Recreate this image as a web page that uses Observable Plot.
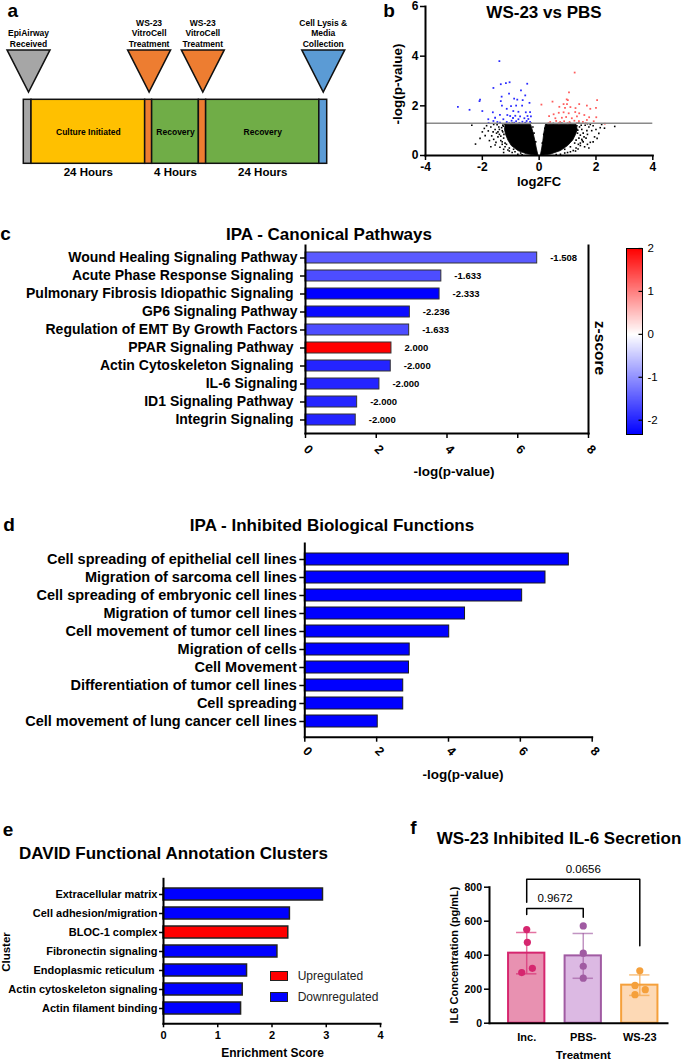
<!DOCTYPE html>
<html>
<head>
<meta charset="utf-8">
<script src="https://cdn.jsdelivr.net/npm/d3@7"></script>
<script src="https://cdn.jsdelivr.net/npm/@observablehq/plot@0.6"></script>
<style>
html,body{margin:0;padding:0;background:#fff;}
#fig{position:relative;width:685px;height:1060px;overflow:hidden;background:#fff;}
</style>
</head>
<body>
<div id="fig"></div>
<script>
const FONT = '"Liberation Sans", Arial, Helvetica, sans-serif';

// ===================== DATA =====================
// Panel a: experimental timeline (schematic units 0-100)
const timelineStages = ["received","culture","treatment","recovery","treatment","recovery","collection"];
const timelineStart = [0, 2.54, 40.0, 42.3, 57.7, 60.1, 97.4];
const timelineEnd   = [2.54, 40.0, 42.3, 57.7, 60.1, 97.4, 100];
const timelineText  = ["", "Culture Initiated", "", "Recovery", "", "Recovery", ""];
const timelineDuration = ["", "24 Hours", "", "4 Hours", "", "24 Hours", ""];
const eventStage = ["received","treatment","treatment","collection"];
const eventPos   = [1.55, 41.3, 59.0, 98.7];
const eventText  = ["EpiAirway\nReceived", "WS-23\nVitroCell\nTreatment", "WS-23\nVitroCell\nTreatment", "Cell Lysis &\nMedia\nCollection"];

// Panel b: volcano plot  [log2FC, -log(p)]
const pThreshold = 1.3;
const downPoints = [[-1.40,3.80],[-1.61,2.72],[-1.35,2.87],[-1.17,2.91],[-1.04,2.95],[-0.64,2.62],[-0.42,2.89],[-1.06,2.49],[-1.32,2.37],[-0.49,2.42],[-2.08,2.25],[-2.10,2.19],[-1.35,2.19],[-0.88,2.29],[-0.77,2.25],[-0.58,2.23],[-0.34,2.12],[-2.86,1.96],[-2.45,1.84],[-2.00,1.79],[-1.31,2.01],[-0.99,1.99],[-0.81,2.01],[-0.60,2.01],[-1.14,1.88],[-0.91,1.79],[-0.73,1.76],[-0.47,1.74],[-0.32,1.75],[-1.63,1.74],[-1.55,1.52],[-1.38,1.64],[-1.12,1.63],[-1.02,1.59],[-0.84,1.60],[-0.67,1.58],[-0.41,1.59],[-0.29,1.58],[-1.78,1.31],[-1.61,1.39],[-1.47,1.35],[-1.26,1.46],[-1.14,1.35],[-0.97,1.40],[-0.81,1.38],[-0.73,1.46],[-0.59,1.36],[-0.44,1.39],[-0.38,1.47],[-0.48,1.32],[-0.32,1.35],[-1.38,1.32],[-1.05,1.30],[-0.88,1.32],[-0.69,1.30],[-0.52,1.50],[-0.92,1.51],[-1.79,1.46]];
const upPoints = [[1.25,3.34],[1.05,2.54],[0.97,2.26],[1.01,2.23],[0.08,2.05],[0.47,2.17],[0.86,2.07],[0.98,2.07],[1.41,2.07],[2.04,2.23],[0.71,1.96],[0.91,1.92],[1.10,1.95],[1.28,1.91],[1.68,2.01],[1.80,1.88],[2.00,1.92],[0.35,1.59],[0.51,1.66],[0.69,1.72],[0.86,1.74],[1.04,1.70],[1.27,1.75],[1.41,1.70],[1.59,1.63],[1.76,1.54],[2.01,1.54],[0.57,1.50],[0.80,1.52],[0.95,1.55],[1.15,1.50],[1.33,1.58],[0.39,1.35],[0.60,1.39],[0.74,1.35],[0.88,1.38],[1.07,1.35],[1.24,1.40],[1.40,1.38],[1.54,1.35],[1.68,1.43],[1.92,1.38],[2.31,1.28],[0.33,1.30],[0.69,1.30],[1.00,1.30],[1.33,1.30],[1.64,1.30]];
const nsPoints = [[-2.37,1.22],[-2.24,0.46],[-2.08,0.69],[-1.93,1.09],[-1.79,0.99],[-1.67,0.79],[-1.52,0.53],[-1.38,0.33],[-1.85,1.2],[-1.7,1.15],[-1.6,1.25],[-1.55,1.05],[-1.5,0.9],[-1.45,0.75],[-1.42,1.15],[-1.35,0.6],[-1.3,0.45],[-1.25,0.25],[-1.48,1.24],[-1.62,0.95],[-1.28,1.22],[-1.4,0.85],[-1.3,0.55],[-1.1,0.22],[-0.95,0.12],[-0.85,0.15],[-0.75,0.05],[-2.0,0.95],[-1.75,0.6],[-1.9,0.8],[-1.4,1.05],[-1.45,0.95],[-1.2,0.35],[-1.05,0.18],[-0.6,0.03],[-0.28,1.3],[-0.22,1.15],[-0.18,0.9],[-0.12,0.55],[-1.15,1.29],[-0.95,1.3],[-0.7,1.29],[-0.5,1.3],[-1.6,0.65],[-1.55,0.42],[-1.7,0.35],[-1.25,0.12],[-0.65,0.1],
  [-1.25,0.7],[-1.28,0.95],[-1.32,1.12],[-1.26,1.18],[-1.2,0.5],[-1.05,0.3],[-0.9,0.25],[-1.35,0.78],[-1.15,0.45],[-1.24,0.85],[-1.3,1.0],[-1.22,1.27],
  [2.66,1.17],[2.10,0.89],[1.80,0.53],[2.04,0.69],[1.37,0.26],[1.9,1.2],[1.85,1.0],[1.75,1.15],[1.7,0.85],[1.65,0.7],[1.68,1.0],[1.55,0.55],[1.62,1.22],[1.45,0.4],[1.58,0.75],[1.6,0.35],[1.7,1.28],[1.45,0.5],[1.2,0.2],[1.1,0.15],[1.95,0.75],[2.0,1.05],[1.7,0.45],[1.52,0.6],[1.3,0.3],[0.9,0.1],[0.75,0.05],[2.2,1.25],[1.8,1.25],[0.25,1.25],[0.2,1.1],[0.16,0.85],[0.11,0.5],[2.3,1.1],[1.9,0.55],[1.75,0.3],[1.0,0.12],[0.6,0.04],[1.4,1.3],[1.1,1.29],[0.8,1.3],[0.5,1.29],[1.28,0.18],[2.15,1.12],
  [1.35,0.9],[1.4,0.7],[1.42,1.15],[1.33,1.2],[1.25,0.5],[1.1,0.35],[0.9,0.25],[1.45,0.82],[1.5,1.05],[1.38,0.45],[1.55,0.9],[1.5,0.65],[1.36,1.02],[1.48,1.22],[1.3,0.62]];
// outlines of the dense, non-significant cloud
const cloudLeft  = [[-0.04,0],[-0.45,0.07],[-0.75,0.2],[-0.98,0.4],[-1.1,0.62],[-1.18,0.85],[-1.22,1.05],[-1.2,1.25],[-0.3,1.25],[-0.22,0.95],[-0.15,0.6],[-0.1,0.3],[-0.04,0]];
const cloudRight = [[0.04,0],[0.09,0.3],[0.13,0.6],[0.17,0.95],[0.22,1.25],[1.3,1.25],[1.34,1.05],[1.28,0.85],[1.18,0.62],[1.0,0.4],[0.75,0.2],[0.4,0.06],[0.04,0]];

// Panel c: IPA canonical pathways
const pathways = ["Wound Healing Signaling Pathway","Acute Phase Response Signaling ","Pulmonary Fibrosis Idiopathic Signaling ","GP6 Signaling Pathway","Regulation of EMT By Growth Factors","PPAR Signaling Pathway ","Actin Cytoskeleton Signaling ","IL-6 Signaling","ID1 Signaling Pathway ","Integrin Signaling "];
const pathwayLogP = [6.55, 3.84, 3.79, 2.95, 2.93, 2.43, 2.41, 2.09, 1.46, 1.42];
const pathwayZ = [-1.508, -1.633, -2.333, -2.236, -1.633, 2.000, -2.000, -2.000, -2.000, -2.000];
const zTicks = [-2, -1, 0, 1, 2];
const logPTicks = [0, 2, 4, 6, 8];

// Panel d: IPA inhibited biological functions
const functionsD = ["Cell spreading of epithelial cell lines","Migration of sarcoma cell lines","Cell spreading of embryonic cell lines","Migration of tumor cell lines","Cell movement of tumor cell lines","Migration of cells","Cell Movement","Differentiation of tumor cell lines","Cell spreading","Cell movement of lung cancer cell lines"];
const functionLogP = [7.35, 6.70, 6.05, 4.46, 4.02, 2.92, 2.90, 2.74, 2.74, 2.03];

// Panel e: DAVID clusters
const clusters = ["Extracellular matrix","Cell adhesion/migration","BLOC-1 complex","Fibronectin signaling","Endoplasmic reticulum ","Actin cytoskeleton signaling","Actin filament binding"];
const clusterScore = [2.94, 2.33, 2.30, 2.10, 1.54, 1.46, 1.43];
const clusterDirection = ["Downregulated","Downregulated","Upregulated","Downregulated","Downregulated","Downregulated","Downregulated"];
const enrichTicks = [0, 1, 2, 3, 4];

// Panel f: IL-6 ELISA
const treatments = ["Inc.", "PBS-", "WS-23"];
const il6Values = [[551, 476, 323, 298], [572, 412, 335, 265], [308, 222, 197, 168]];
const il6Jitter = [[0, 0.012, 0.1, -0.088], [0, 0, 0, 0], [0, -0.085, 0.097, -0.085]];
const il6Ticks = [0, 200, 400, 600, 800];
const comparisonA = ["Inc.", "Inc."];
const comparisonB = ["PBS-", "WS-23"];
const comparisonP = ["0.9672", "0.0656"];
const bracketLevel = [675, 847];
const bracketLegA = [640, 712];
const bracketLegB = [623, 455];

// ===================== STYLE =====================
const stageColors = {received:"#a6a6a6", culture:"#ffc000", treatment:"#ed7d31", recovery:"#70ad47", collection:"#5b9bd5"};
const treatmentFill = ["#e891b1", "#dcb9e3", "#fdd9b5"];
const treatmentEdge = ["#d6266f", "#a05ba2", "#f5a03b"];
const zColor = {type:"linear", domain:[-2.333, 0, 2], range:["#0000ff", "#ffffff", "#ff0000"]};
const baseStyle = `font-family:${FONT};font-size:11px;background:transparent;overflow:visible;white-space:pre;color:#000;`;
const fmt = d => String(d);

const fig = document.getElementById("fig");
function place(node, left, top) {
  node.style.position = "absolute";
  node.style.left = left + "px";
  node.style.top = top + "px";
  fig.appendChild(node);
}
function label(text, x, y, {size = 12, weight = "bold", anchor = "middle", rotate = 0, color = "#000"} = {}) {
  const d = document.createElement("div");
  d.textContent = text;
  d.style.cssText = `position:absolute;left:${x}px;top:${y}px;font-family:${FONT};font-size:${size}px;font-weight:${weight};color:${color};white-space:pre;line-height:1;`;
  const tx = anchor === "start" ? "0" : anchor === "end" ? "-100%" : "-50%";
  d.style.transform = `translate(${tx},-50%)` + (rotate ? ` rotate(${rotate}deg)` : "");
  if (anchor !== "middle") d.style.transformOrigin = anchor === "start" ? "0 50%" : "100% 50%";
  fig.appendChild(d);
}
const downTriangle = {
  draw(ctx, size) {
    const r = Math.sqrt(size / Math.PI);
    ctx.moveTo(-r, -r * 0.98); ctx.lineTo(r, -r * 0.98); ctx.lineTo(0, r * 0.98); ctx.closePath();
  }
};

// ===================== PANEL A =====================
const segs = timelineStages.map((s, i) => ({stage: s, start: timelineStart[i], end: timelineEnd[i], text: timelineText[i], dur: timelineDuration[i]}));
const events = eventStage.map((s, i) => ({stage: s, pos: eventPos[i], text: eventText[i]}));
const stageDomain = Object.keys(stageColors);
place(Plot.plot({
  width: 340, height: 185, margin: 0, style: baseStyle,
  x: {domain: [0, 100], range: [23.3, 326.7], axis: null},
  y: {domain: [0, 1], range: [163.3, 99.3], axis: null},
  color: {domain: stageDomain, range: stageDomain.map(k => stageColors[k])},
  marks: [
    Plot.rect(segs, {x1: "start", x2: "end", y1: 0, y2: 1, fill: "stage", stroke: "#111", strokeWidth: 1.5}),
    Plot.text(segs, {filter: d => d.text, x: d => (d.start + d.end) / 2, y: 0.485, text: "text", fontSize: 8.5, fontWeight: "bold"}),
    Plot.text(segs, {filter: d => d.dur, x: d => (d.start + d.end) / 2, y: -0.14, text: "dur", fontSize: 11.5, fontWeight: "bold"}),
    Plot.dot(events, {x: "pos", y: 1.45, r: 21.5, symbol: downTriangle, fill: "stage", stroke: "#111", strokeWidth: 1.5}),
    Plot.text(events, {x: "pos", y: 1.83, text: "text", lineAnchor: "bottom", lineHeight: 1.22, fontSize: 8.5, fontWeight: "bold"})
  ]
}), 0, 0);
label("a", 12.8, 10, {size: 19});

// ===================== PANEL B =====================
place(Plot.plot({
  width: 345, height: 185, marginLeft: 85, marginRight: 32.7, marginTop: 6, marginBottom: 30, style: baseStyle,
  x: {domain: [-4, 4]},
  y: {domain: [0, 6]},
  marks: [
    Plot.line(cloudLeft, {x: d => d[0], y: d => d[1], fill: "#000", stroke: "#000", strokeWidth: 0.8}),
    Plot.line(cloudRight, {x: d => d[0], y: d => d[1], fill: "#000", stroke: "#000", strokeWidth: 0.8}),
    Plot.dot(nsPoints, {x: d => d[0], y: d => d[1], r: 0.9, symbol: "square", fill: "#000"}),
    Plot.dot(downPoints, {x: d => d[0], y: d => d[1], r: 1, symbol: "square", fill: "#2a2aff"}),
    Plot.dot(upPoints, {x: d => d[0], y: d => d[1], r: 1, symbol: "square", fill: "#ff5c5c"}),
    Plot.ruleY([pThreshold], {stroke: "#8a8a8a", strokeWidth: 1.5}),
    Plot.frame({anchor: "left", strokeWidth: 2}),
    Plot.frame({anchor: "bottom", strokeWidth: 2}),
    Plot.axisX({ticks: [-4, -2, 0, 2, 4], tickFormat: fmt, tickSize: 5, tickPadding: 2, fontSize: 12, fontWeight: "bold", strokeWidth: 1.5, label: null}),
    Plot.axisY({ticks: [0, 2, 4, 6], tickFormat: fmt, tickSize: 5, tickPadding: 2, fontSize: 12, fontWeight: "bold", strokeWidth: 1.5, label: null})
  ]
}), 340, 0);
label("b", 389, 10.3, {size: 19});
label("WS-23 vs PBS", 544, 12, {size: 17});
label("log2FC", 539, 181, {size: 13});
label("-log(p-value)", 398, 84, {size: 13.5, rotate: -90});

// ===================== PANEL C =====================
const cData = pathways.map((p, i) => ({name: p, logp: pathwayLogP[i], z: pathwayZ[i]}));
place(Plot.plot({
  width: 600, height: 300, marginLeft: 305, marginRight: 12, marginTop: 60, marginBottom: 52, style: baseStyle,
  x: {domain: [0, 8]},
  y: {domain: pathways, paddingInner: 0.365, paddingOuter: 0.28},
  color: zColor,
  marks: [
    Plot.barX(cData, {x: "logp", y: "name", fill: "z", stroke: "#333", strokeWidth: 1}),
    Plot.text(cData, {x: "logp", y: "name", text: d => d.z.toFixed(3), dx: 13, textAnchor: "start", fontSize: 9.5, fontWeight: "bold"}),
    Plot.frame({anchor: "left", strokeWidth: 2}),
    Plot.frame({anchor: "bottom", strokeWidth: 2}),
    Plot.frame({anchor: "right", strokeWidth: 2}),
    Plot.axisY({tickSize: 5, tickPadding: 3, fontSize: 14, fontWeight: "bold", strokeWidth: 1.5, label: null}),
    Plot.axisX({ticks: logPTicks, tickSize: 5, tickFormat: () => "", strokeWidth: 1.5, label: null}),
    Plot.text(logPTicks, {x: d => d, text: fmt, frameAnchor: "bottom", dy: 19, rotate: 45, fontSize: 12.5, fontWeight: "bold"})
  ]
}), 0, 185);
label("c", 5.5, 233, {size: 19});
label("IPA - Canonical Pathways", 329, 234, {size: 17});
label("-log(p-value)", 454, 471.5, {size: 13.5});

// colour bar
place(Plot.plot({
  width: 85, height: 200, marginLeft: 26, marginRight: 43, marginTop: 8, marginBottom: 6, style: baseStyle,
  x: {domain: [0, 1], axis: null},
  y: {domain: [-2.333, 2]},
  color: zColor,
  marks: [
    Plot.raster({x1: 0, x2: 1, y1: -2.333, y2: 2, width: 1, height: 256, fill: (x, y) => y, imageRendering: "auto"}),
    Plot.ruleY(zTicks, {x1: 0.78, x2: 1, stroke: "#000", strokeWidth: 1.2}),
    Plot.frame({stroke: "#000", strokeWidth: 1}),
    Plot.axisY({anchor: "right", ticks: zTicks, tickFormat: fmt, tickSize: 0, tickPadding: 5, fontSize: 11.5, fontWeight: "normal", label: null})
  ]
}), 600, 240);
label("z-score", 600, 348, {size: 15.5, rotate: 90});

// ===================== PANEL D =====================
const dData = functionsD.map((f, i) => ({name: f, logp: functionLogP[i]}));
place(Plot.plot({
  width: 610, height: 260, marginLeft: 304.3, marginRight: 18.3, marginTop: 13, marginBottom: 53.3, style: baseStyle,
  x: {domain: [0, 8]},
  y: {domain: functionsD, paddingInner: 0.34, paddingOuter: 0.36},
  marks: [
    Plot.barX(dData, {x: "logp", y: "name", fill: "#0000ff", stroke: "#1a1a1a", strokeWidth: 1}),
    Plot.frame({anchor: "left", strokeWidth: 2}),
    Plot.frame({anchor: "bottom", strokeWidth: 2}),
    Plot.axisY({tickSize: 5, tickPadding: 3, fontSize: 14.5, fontWeight: "bold", strokeWidth: 1.5, label: null}),
    Plot.axisX({ticks: logPTicks, tickSize: 5, tickFormat: () => "", strokeWidth: 1.5, label: null}),
    Plot.text(logPTicks, {x: d => d, text: fmt, frameAnchor: "bottom", dy: 17, rotate: 45, fontSize: 12.5, fontWeight: "bold"})
  ]
}), 0, 530);
label("d", 9, 524, {size: 19});
label("IPA - Inhibited Biological Functions", 332, 524.5, {size: 17});
label("-log(p-value)", 463, 775, {size: 13.5});

// ===================== PANEL E =====================
const eData = clusters.map((c, i) => ({name: c, score: clusterScore[i], dir: clusterDirection[i]}));
place(Plot.plot({
  width: 400, height: 190, marginLeft: 163, marginRight: 20, marginTop: 8.3, marginBottom: 36.7, style: baseStyle,
  x: {domain: [0, 4]},
  y: {domain: clusters, paddingInner: 0.35, paddingOuter: 0.38},
  color: {domain: ["Upregulated", "Downregulated"], range: ["#ff0000", "#0000ff"]},
  marks: [
    Plot.barX(eData, {x: "score", y: "name", fill: "dir", stroke: "#222", strokeWidth: 1.5}),
    Plot.frame({anchor: "left", strokeWidth: 2}),
    Plot.frame({anchor: "bottom", strokeWidth: 2}),
    Plot.axisY({tickSize: 4, tickPadding: 2, fontSize: 11, fontWeight: "bold", strokeWidth: 1.5, label: null}),
    Plot.axisX({ticks: enrichTicks, tickFormat: fmt, tickSize: 4, tickPadding: 3, fontSize: 11, fontWeight: "bold", strokeWidth: 1.5, label: null})
  ]
}), 0, 870);
label("e", 8, 829, {size: 19});
label("DAVID Functional Annotation Clusters", 19, 853, {size: 17, anchor: "start"});
label("Cluster", 7, 951.5, {size: 11.5, rotate: -90});
label("Enrichment Score", 272.5, 1052.5, {size: 12});
["Upregulated", "Downregulated"].forEach((k, i) => {
  const box = document.createElement("div");
  box.style.cssText = `width:16px;height:8px;border:1.5px solid #222;background:${k === "Upregulated" ? "#ff0000" : "#0000ff"};`;
  place(box, 270, 971 + i * 20.8);
  label(k, 297.7, 976 + i * 20.8, {size: 12, weight: "normal", anchor: "start", color: "#222"});
});

// ===================== PANEL F =====================
const fStats = treatments.map((t, i) => ({t, i, mean: d3.mean(il6Values[i]), sd: d3.deviation(il6Values[i])}));
const fPoints = treatments.flatMap((t, i) => il6Values[i].map((v, j) => ({t, i, v, x: i + il6Jitter[i][j]})));
const fCaps = fStats.flatMap(d => [{...d, y: d.mean + d.sd}, {...d, y: d.mean - d.sd}]);
const bracketPath = comparisonA.flatMap((a, k) => {
  const ia = treatments.indexOf(a), ib = treatments.indexOf(comparisonB[k]);
  return [{k, x: ia, y: bracketLegA[k]}, {k, x: ia, y: bracketLevel[k]}, {k, x: ib, y: bracketLevel[k]}, {k, x: ib, y: bracketLegB[k]}];
});
const bracketText = comparisonA.map((a, k) => ({x: (treatments.indexOf(a) + treatments.indexOf(comparisonB[k])) / 2, y: bracketLevel[k], text: comparisonP[k]}));
place(Plot.plot({
  width: 285, height: 200, marginLeft: 89, marginRight: 18, marginTop: 26.7, marginBottom: 37.3, style: baseStyle,
  x: {domain: [-0.658, 2.49]},
  y: {domain: [0, 800]},
  marks: [
    Plot.rect(fStats, {x1: d => d.i - 0.321, x2: d => d.i + 0.321, y1: 0, y2: "mean", fill: d => treatmentFill[d.i], stroke: d => treatmentEdge[d.i], strokeWidth: 2}),
    Plot.ruleX(fStats, {x: "i", y1: d => d.mean - d.sd, y2: d => d.mean + d.sd, stroke: d => treatmentEdge[d.i], strokeOpacity: 0.65, strokeWidth: 1.5}),
    Plot.ruleY(fCaps, {y: "y", x1: d => d.i - 0.18, x2: d => d.i + 0.18, stroke: d => treatmentEdge[d.i], strokeOpacity: 0.65, strokeWidth: 1.5}),
    Plot.dot(fPoints, {x: "x", y: "v", r: 3.6, fill: d => treatmentEdge[d.i]}),
    Plot.line(bracketPath, {x: "x", y: "y", z: "k", stroke: "#000", strokeWidth: 1.5}),
    Plot.text(bracketText, {x: "x", y: "y", text: "text", lineAnchor: "bottom", dy: -6, fontSize: 11.5}),
    Plot.frame({anchor: "left", strokeWidth: 2}),
    Plot.frame({anchor: "bottom", strokeWidth: 2}),
    Plot.axisY({ticks: il6Ticks, tickFormat: fmt, tickSize: 5, tickPadding: 2.5, fontSize: 10.5, fontWeight: "bold", strokeWidth: 1.5, label: null}),
    Plot.axisX({ticks: [0, 1, 2], tickFormat: i => treatments[i], tickSize: 0, tickPadding: 10, fontSize: 11, fontWeight: "bold", label: null})
  ]
}), 400, 860);
label("f", 413.5, 827, {size: 19});
label("WS-23 Inhibited IL-6 Secretion", 436.7, 838.3, {size: 17, anchor: "start"});
label("IL6 Concentration (pg/mL)", 454, 955, {size: 11, rotate: -90});
label("Treatment", 583.3, 1055.5, {size: 11.5});
</script>
</body>
</html>
